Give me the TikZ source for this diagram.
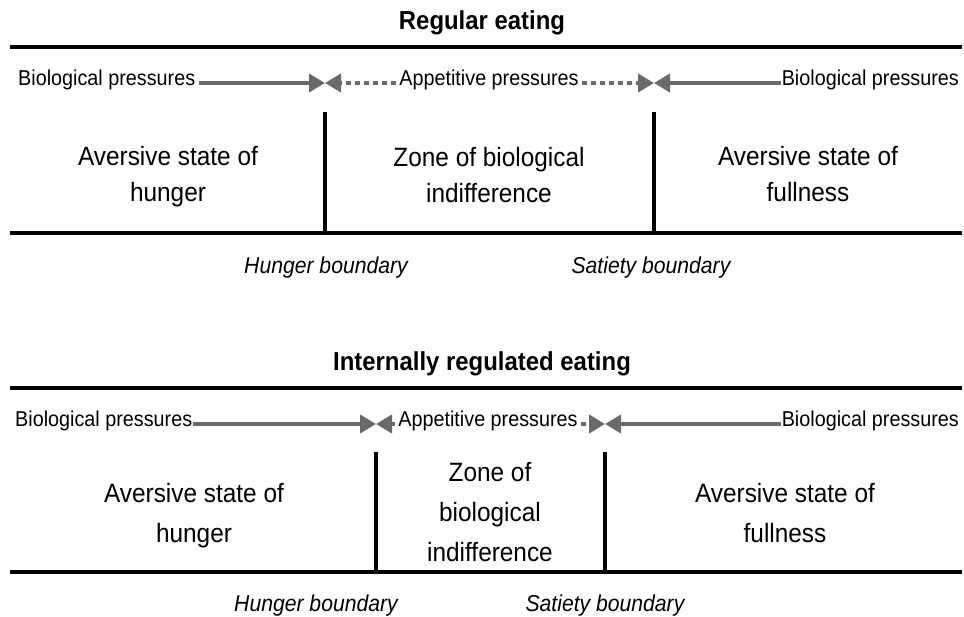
\documentclass[tikz,border=0pt]{standalone}
\usepackage{fontspec}
\setmainfont{Liberation Sans}[FakeStretch=0.92]
\usetikzlibrary{arrows.meta}
\definecolor{pressgray}{HTML}{6A6A6A}
\tikzset{
  bar/.style={line width=4pt},
  wall/.style={line width=4pt},
  title/.style={font=\fontsize{26}{28}\selectfont\bfseries},
  zone/.style={align=center, inner sep=0pt, font=\fontsize{26.5}{#1}\selectfont},
  zone/.default=36,
  press/.style={font=\fontsize{21.5}{24}\selectfont, text height=0.75em, text depth=0.25em},
  bound/.style={font=\fontsize{23}{26}\selectfont\itshape},
  tip/.style={-{Triangle[length=16pt,width=18pt]}},
  solidarr/.style={tip, draw=pressgray, fill=pressgray, line width=4pt},
  dotarr/.style={tip, draw=pressgray, fill=pressgray, line width=4pt, dash pattern=on 5pt off 4pt}
}
\begin{document}
\begin{tikzpicture}[x=1pt, y=-1pt]
  \useasboundingbox (0,0) rectangle (964,616);

  % Regular eating
  \node[title] (title1) at (482,23) {Regular eating};
  \draw[bar] (10,47) -- (962,47);
  \draw[bar] (10,233) -- (962,233);
  \draw[wall] (325,112) -- (325,233);
  \draw[wall] (654,112) -- (654,233);
  \coordinate (hunger1) at (325,83);
  \coordinate (satiety1) at (654,83);
  \node[press, anchor=west, inner sep=4pt] (bioL1) at (14,83) {Biological pressures};
  \node[press, inner sep=3pt] (app1) at (489,83) {Appetitive pressures};
  \node[press, anchor=east, inner sep=1pt] (bioR1) at (960,83) {Biological pressures};
  \draw[solidarr] (bioL1) -- (hunger1);
  \draw[solidarr] (bioR1) -- (satiety1);
  \draw[dotarr] (app1) -- (hunger1);
  \draw[dotarr] (app1) -- (satiety1);
  \node[zone] (hungry1) at (168,177) {Aversive state of\\hunger};
  \node[zone] (indiff1) at (489,175) {Zone of biological\\indifference};
  \node[zone] (full1) at (808,174) {Aversive state of\\fullness};
  \node[bound] (hb1) at (326,268) {Hunger boundary};
  \node[bound] (sb1) at (651,268) {Satiety boundary};

  % Internally regulated eating
  \node[title] (title2) at (482,364) {Internally regulated eating};
  \draw[bar] (10,388) -- (962,388);
  \draw[bar] (10,572) -- (962,572);
  \draw[wall] (376,452) -- (376,572);
  \draw[wall] (605,452) -- (605,572);
  \coordinate (hunger2) at (376,424);
  \coordinate (satiety2) at (605,424);
  \node[press, anchor=west, inner sep=1pt] (bioL2) at (14,424) {Biological pressures};
  \node[press, inner sep=3pt] (app2) at (488,424) {Appetitive pressures};
  \node[press, anchor=east, inner sep=1pt] (bioR2) at (960,424) {Biological pressures};
  \draw[solidarr] (bioL2) -- (hunger2);
  \draw[solidarr] (bioR2) -- (satiety2);
  \draw[dotarr] (app2) -- (hunger2);
  \draw[dotarr] (app2) -- (satiety2);
  \node[zone=40] (hungry2) at (194,516) {Aversive state of\\hunger};
  \node[zone=40] (indiff2) at (490,512) {Zone of\\biological\\indifference};
  \node[zone=40] (full2) at (785,513) {Aversive state of\\fullness};
  \node[bound] (hb2) at (316,606) {Hunger boundary};
  \node[bound] (sb2) at (605,606) {Satiety boundary};
\end{tikzpicture}
\end{document}
